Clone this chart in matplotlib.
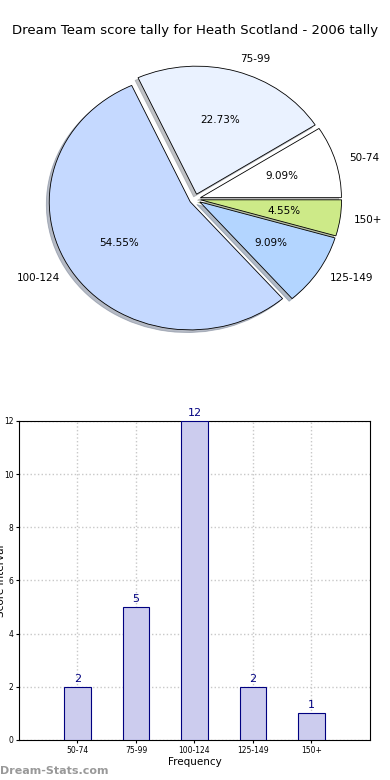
import matplotlib
matplotlib.use("Agg")
import matplotlib.pyplot as plt

categories = ["50-74", "75-99", "100-124", "125-149", "150+"]
counts = [2, 5, 12, 2, 1]
pie_colors = ["#ffffff", "#eaf2ff", "#c5d9ff", "#b3d5ff", "#cdea88"]

fig = plt.figure(figsize=(3.9, 7.8), dpi=100)

fig.text(
    0.5, 0.961,
    "Dream Team score tally for Heath Scotland - 2006 tally",
    ha="center", va="center", fontsize=9.5
)

# pie (old style, not forced round)
ax1 = fig.add_axes([0.0, 0.514, 1.0, 0.4615])
ax1.pie(
    counts,
    labels=categories,
    colors=pie_colors,
    explode=[0.04] * len(counts),
    autopct="%1.2f%%",
    shadow={"ox": -0.015, "oy": -0.015, "shade": 0.45},
    startangle=0,
    counterclock=True,
    labeldistance=1.1,
    wedgeprops={"edgecolor": "black", "linewidth": 0.6},
    textprops={"fontsize": 7.5},
)
ax1.set_aspect("auto")
ax1.set_xlim(-1.383, 1.383)
ax1.set_ylim(-1.406, 1.406)
ax1.axis("off")

# bars
ax2 = fig.add_axes([0.0487, 0.0513, 0.9, 0.4090])
xs = list(range(len(categories)))
ax2.bar(
    xs, counts, width=0.45,
    color="#ccccee", edgecolor="navy", linewidth=0.8, zorder=3
)
for x, c in zip(xs, counts):
    ax2.text(x, c + 0.12, str(c), ha="center", va="bottom",
             color="navy", fontsize=8)

ax2.set_xlim(-1, 5)
ax2.set_ylim(0, 12)
ax2.set_xticks(xs)
ax2.set_xticklabels(categories)
ax2.set_yticks(range(0, 13, 2))
ax2.tick_params(labelsize=5.5, length=2, pad=2)
ax2.grid(True, linestyle=":", color="#c8c8c8", linewidth=1.0, zorder=0)
ax2.set_xlabel("Frequency", fontsize=7.5, labelpad=2)
ax2.set_ylabel("Score Interval", fontsize=7.5)
ax2.yaxis.set_label_coords(-0.037, 0.5)

fig.text(0.0, 0.012, "Dream-Stats.com", color="#999999",
         fontsize=8, fontweight="bold", ha="left", va="center")

fig.savefig("out.png", dpi=100)
